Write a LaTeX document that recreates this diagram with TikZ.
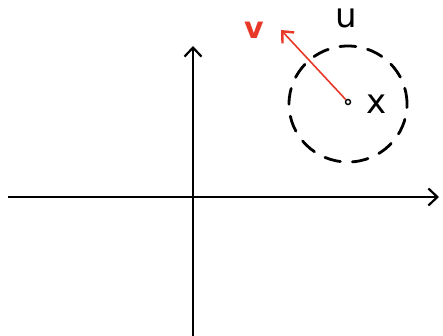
\documentclass[tikz,border=0pt]{standalone}
\usepackage{fontspec}
\setmainfont{DejaVu Sans}
\usepackage{tikz}
\usetikzlibrary{positioning,arrows.meta}
\definecolor{penred}{RGB}{232,56,40}
\begin{document}
\begin{tikzpicture}[
    x=1pt,y=-1pt,
    axis/.style={line width=1.8pt,-{Straight Barb[length=9pt,width=17pt,line width=2.2pt]}},
    nbhd/.style={draw,line width=2.8pt,dash pattern=on 16pt off 12pt,line cap=round},
    vec/.style={penred,line width=1.6pt,-{Straight Barb[length=9pt,width=16pt,line width=2.4pt]}},
    lbl/.style={font=\fontsize{34}{34}\selectfont}]
\useasboundingbox (0,0) rectangle (443,336);
% axes
\coordinate (xl) at (8,197);
\coordinate (xr) at (439,197);
\coordinate (yb) at (193,336);
\coordinate (yt) at (193,46);
\draw[axis](xl)--(xr);
\draw[axis](yb)--(yt);
% neighbourhood U of x
\node[circle,draw,line width=1.4pt,inner sep=0pt,minimum size=5pt] (pt) at (348,102) {};
\draw[nbhd] (348,104) ellipse [x radius=59pt,y radius=58pt];
\node[lbl] (xlab) at (377,104) {x};
\node[lbl] (ulab) at (346,18) {u};
% direction v
\coordinate (tip) at (281,30);
\draw[vec](pt)--(tip);
\node[lbl,penred,font=\bfseries\fontsize{30}{30}\selectfont] (vlab) at (254,30) {v};
\end{tikzpicture}
\end{document}
